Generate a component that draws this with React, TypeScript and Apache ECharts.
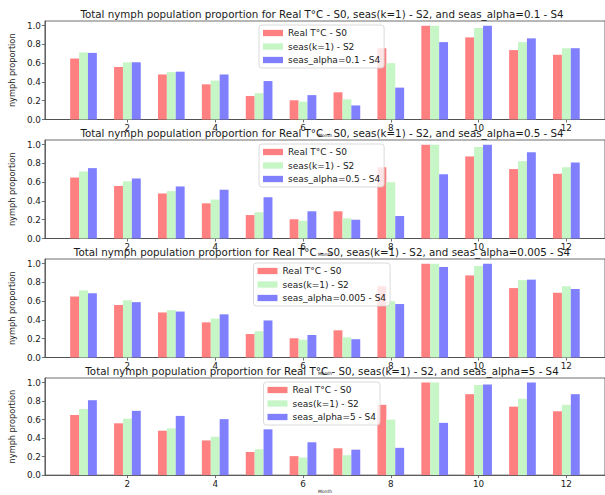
import React, { useEffect, useRef } from "react";
import * as echarts from "echarts";

const months = [1, 2, 3, 4, 5, 6, 7, 8, 9, 10, 11, 12];
const realS0 = [0.65, 0.56, 0.48, 0.375, 0.25, 0.205, 0.29, 0.76, 1.0, 0.875, 0.74, 0.69];
const seasK1S2 = [0.715, 0.61, 0.505, 0.415, 0.28, 0.19, 0.215, 0.6, 1.0, 0.975, 0.825, 0.76];
const alpha01S4 = [0.71, 0.61, 0.51, 0.48, 0.41, 0.26, 0.15, 0.34, 0.825, 1.0, 0.865, 0.76];
const alpha05S4 = [0.75, 0.64, 0.555, 0.52, 0.44, 0.29, 0.2, 0.24, 0.685, 1.0, 0.92, 0.81];
const alpha0005S4 = [0.685, 0.59, 0.49, 0.46, 0.395, 0.24, 0.195, 0.57, 0.965, 1.0, 0.83, 0.73];
const alpha5S4 = [0.81, 0.695, 0.64, 0.605, 0.495, 0.355, 0.275, 0.295, 0.565, 0.98, 1.0, 0.875];
const alphaLabels = ["0.1", "0.5", "0.005", "5"];
const alphaSeries = [alpha01S4, alpha05S4, alpha0005S4, alpha5S4];
const xTicks = [2, 4, 6, 8, 10, 12];
const yTicks = [0, 0.2, 0.4, 0.6, 0.8, 1.0];

const FONT = "DejaVu Sans";
const RED = "#ff8080";
const GREEN = "#c6f5c6";
const BLUE = "#8080ff";
const SPINE = "#4a4a4a";
const TEXT = "#1a1a1a";

const gridTops = [21, 140, 259, 378];
const gridH = 98.5;
const gridLeft = 36;
const gridW = 570;
const legendLefts = [259, 259, 253.5, 263.5];

export default function App() {
  const ref = useRef<HTMLDivElement>(null);
  useEffect(() => {
    if (!ref.current) return;
    const chart = echarts.init(ref.current, null, { renderer: "svg" });
    const grids: any[] = [];
    const xAxes: any[] = [];
    const yAxes: any[] = [];
    const series: any[] = [];
    const legends: any[] = [];
    const graphics: any[] = [];
    alphaLabels.forEach((a, i) => {
      const s0 = "Real T°C - S0";
      const s2 = "seas(k=1) - S2";
      const s4 = `seas_alpha=${a} - S4`;
      grids.push({
        left: gridLeft,
        top: gridTops[i],
        width: gridW,
        height: gridH,
        show: true,
        borderColor: SPINE,
        borderWidth: 0.8,
        backgroundColor: "transparent",
      });
      xAxes.push({
        type: "value",
        gridIndex: i,
        min: 0.12,
        max: 12.88,
        name: "Month",
        nameLocation: "middle",
        nameGap: 11,
        nameTextStyle: { fontFamily: FONT, fontSize: 4.5, color: TEXT },
        axisLine: { show: true, lineStyle: { color: SPINE, width: 0.8 } },
        axisTick: { show: true, length: 3, customValues: xTicks, lineStyle: { color: SPINE, width: 0.8 } },
        axisLabel: {
          customValues: xTicks,
          margin: 4,
          fontFamily: FONT,
          fontSize: 8.8,
          color: TEXT,
        },
        splitLine: { show: false },
      });
      yAxes.push({
        type: "value",
        gridIndex: i,
        min: 0,
        max: 1.05,
        name: "nymph proportion",
        nameLocation: "middle",
        nameGap: 16,
        nameTextStyle: { fontFamily: FONT, fontSize: 8.2, color: TEXT },
        axisLine: { show: true, lineStyle: { color: SPINE, width: 0.8 } },
        axisTick: { show: true, length: 3, customValues: yTicks, lineStyle: { color: SPINE, width: 0.8 } },
        axisLabel: {
          customValues: yTicks,
          margin: 4,
          fontFamily: FONT,
          fontSize: 8.8,
          color: TEXT,
          formatter: (v: number) => v.toFixed(1),
        },
        splitLine: { show: false },
      });
      const mk = (name: string, vals: number[], color: string) => ({
        type: "bar",
        name,
        xAxisIndex: i,
        yAxisIndex: i,
        barWidth: 8.9,
        barGap: "0%",
        itemStyle: { color },
        data: months.map((m, k) => [m, vals[k]]),
      });
      series.push(mk(s0, realS0, RED), mk(s2, seasK1S2, GREEN), mk(s4, alphaSeries[i], BLUE));
      legends.push({
        orient: "vertical",
        left: legendLefts[i],
        top: gridTops[i] + 4,
        data: [s0, s2, s4],
        icon: "rect",
        itemWidth: 20,
        itemHeight: 6.3,
        itemGap: 2.5,
        padding: [2.5, 4, 2.5, 4],
        backgroundColor: "rgba(255,255,255,0.8)",
        borderColor: "#d0d0d0",
        borderWidth: 0.8,
        borderRadius: 3,
        selectedMode: false,
        textStyle: { fontFamily: FONT, fontSize: 9, color: TEXT, lineHeight: 11 },
      });
      graphics.push({
        type: "text",
        x: 322,
        y: gridTops[i] - 7,
        style: {
          text: `Total nymph population proportion for Real T°C - S0, seas(k=1) - S2, and seas_alpha=${a} - S4`,
          fontFamily: FONT,
          fontSize: 10.3,
          fill: TEXT,
          textAlign: "center",
          textVerticalAlign: "middle",
        },
        z: 10,
      });
    });
    chart.setOption({
      animation: false,
      backgroundColor: "#ffffff",
      grid: grids,
      xAxis: xAxes,
      yAxis: yAxes,
      series,
      legend: legends,
      graphic: graphics,
    });
    return () => chart.dispose();
  }, []);
  return (
    <div
      ref={ref}
      style={{ position: "absolute", left: 0, top: 0, width: 605, height: 495 }}
    />
  );
}
